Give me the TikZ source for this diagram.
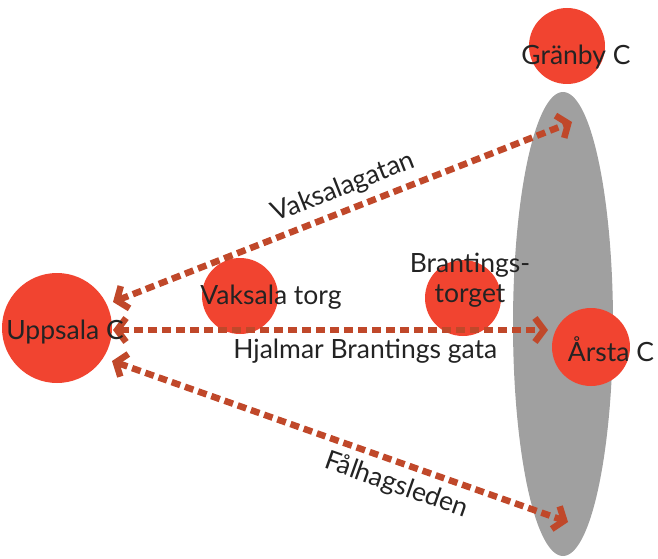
\documentclass[tikz,border=0pt]{standalone}
\usepackage{fontspec}
\setmainfont{Lato}
\usetikzlibrary{arrows.meta}
\definecolor{stopred}{RGB}{241,68,48}
\definecolor{roadred}{RGB}{192,72,42}
\definecolor{zonegray}{RGB}{160,160,160}
\definecolor{txt}{RGB}{35,35,35}
\tikzset{
  stop/.style={circle,fill=stopred,inner sep=0pt,minimum size=#1},
  stop/.default=76pt,
  road/.style={roadred,line width=6.5pt,dash pattern=on 9pt off 5pt,
    {Straight Barb[length=9pt,width=24pt]}-{Straight Barb[length=9pt,width=24pt]}},
  lbl/.style={text=txt,font=\fontsize{26.5}{30}\selectfont,inner sep=2pt,align=center}
}
\begin{document}
\begin{tikzpicture}[x=1pt,y=-1pt]
   \useasboundingbox (0,0) rectangle (658,559) ;
   % zone of the new stops
   \fill[zonegray] (563,324) ellipse [x radius=50,y radius=232] ;
   % stops
   \node[stop=110pt] (upc) at (57,328) {} ;
   \node[stop] (vtorg) at (240,296) {} ;
   \node[stop] (btorg) at (463,298) {} ;
   \node[stop] (granby) at (567,46) {} ;
   \node[stop=78pt] (arsta) at (591,347) {} ;
   % ends of the roads
   \coordinate (vakA) at (113,302) ;
   \coordinate (vakB) at (572,122) ;
   \coordinate (hjaA) at (113,330) ;
   \coordinate (hjaB) at (548,330) ;
   \coordinate (falA) at (112,361) ;
   \coordinate (falB) at (568,522) ;
   % roads
   \draw[road] (vakA) -- (vakB) node[lbl,pos=0.52,sloped,above=5pt] {Vaksalagatan} ;
   \draw[road] (hjaA) -- (hjaB) node[lbl,pos=0.58,below=4pt] {Hjalmar Brantings gata} ;
   \draw[road] (falA) -- (falB) node[lbl,pos=0.64,sloped,below=5pt] {Fålhagsleden} ;
   % names of the stops
   \node[lbl] at (65,332) {Uppsala C} ;
   \node[lbl] at (271,297) {Vaksala torg} ;
   \node[lbl] at (470,280) {Brantings-\\torget} ;
   \node[lbl] at (576,57) {Gränby C} ;
   \node[lbl] at (611,349) {Årsta C} ;
\end{tikzpicture}
\end{document}
